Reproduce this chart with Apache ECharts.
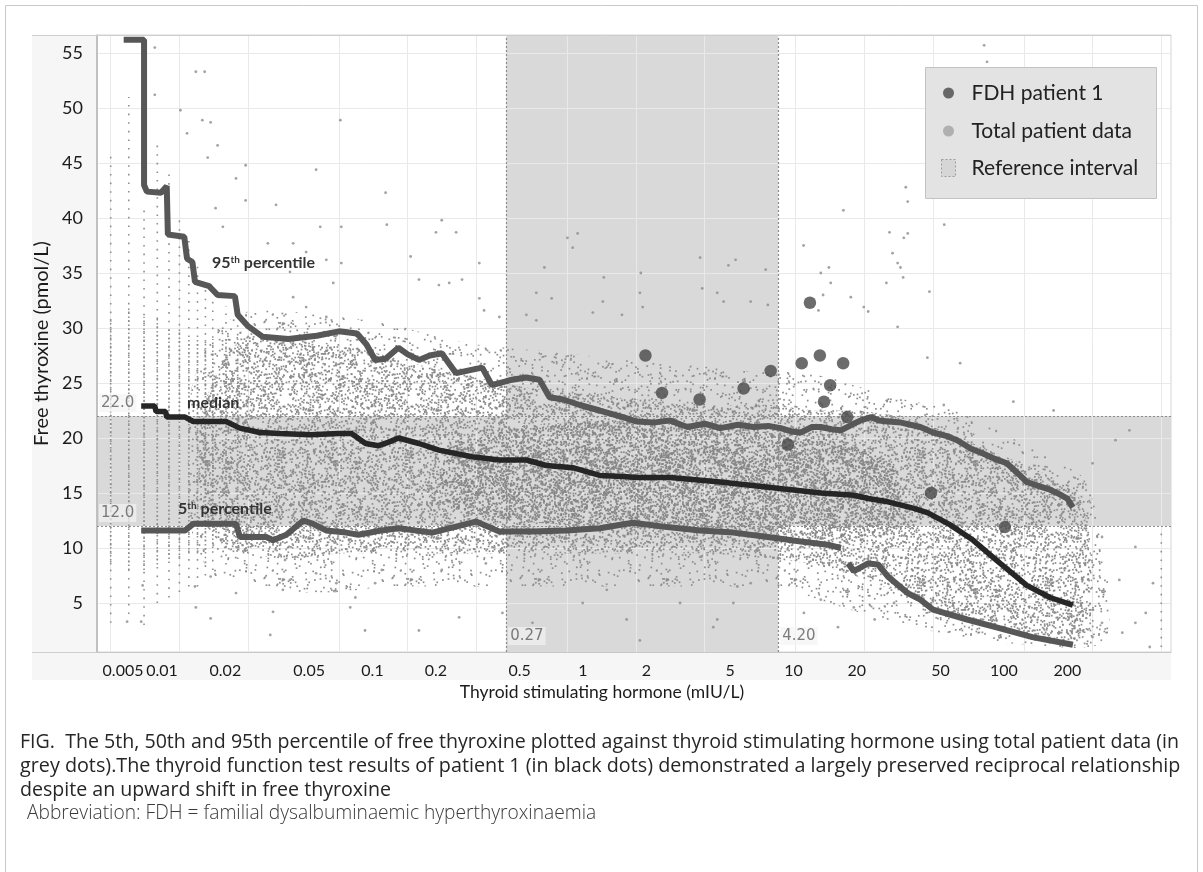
<!DOCTYPE html>
<html><head><meta charset="utf-8">
<script src="https://cdn.jsdelivr.net/npm/echarts@6/dist/echarts.min.js"></script>
<style>html,body{margin:0;padding:0;background:#fff}#chart{width:1203px;height:872px}</style>
</head><body><div id="chart"></div>
<script>
// ---------------- DATA ----------------
const xTickValues = [0.005, 0.01, 0.02, 0.05, 0.1, 0.2, 0.5, 1, 2, 5, 10, 20, 50, 100, 200];
const yTickValues = [5, 10, 15, 20, 25, 30, 35, 40, 45, 50, 55];
const refTsh = [0.27, 4.20];
const refFt4 = [12.0, 22.0];

// FDH patient 1: [TSH, FT4]
const fdhPatient1 = [[1.10,27.5],[1.30,24.1],[1.90,23.5],[2.96,24.5],[3.89,26.1],[4.63,19.4],[5.32,26.8],[5.78,32.3],
  [6.39,27.5],[6.66,23.3],[7.09,24.8],[8.08,26.8],[8.42,21.9],[19.6,15.0],[41.3,11.9]];

// 95th percentile
const percentile95 = [[0.0057,56.2],[0.0070,56.2],[0.0070,43.0],[0.0072,42.4],[0.0083,42.3],[0.0088,42.9],[0.0089,38.5],
  [0.0105,38.3],[0.0108,36.3],[0.0114,36.0],[0.0117,34.2],[0.0135,33.8],[0.0147,33.0],[0.0175,32.9],[0.0180,31.2],
  [0.0199,30.2],[0.0232,29.2],[0.030,29.0],[0.040,29.3],[0.050,29.7],[0.060,29.5],[0.066,28.5],[0.072,27.1],[0.080,27.2],
  [0.091,28.2],[0.100,27.6],[0.112,27.1],[0.125,27.5],[0.141,27.7],[0.155,26.5],[0.163,25.9],[0.190,26.2],[0.212,26.4],
  [0.234,24.8],[0.287,25.3],[0.330,25.5],[0.378,25.3],[0.418,23.7],[0.480,23.5],[0.567,23.0],[0.694,22.5],[0.876,21.9],
  [1.01,21.5],[1.19,21.4],[1.40,21.6],[1.68,21.0],[2.00,21.3],[2.34,20.9],[2.80,21.2],[3.27,21.0],[3.80,21.1],[4.30,20.9],
  [4.80,20.6],[5.27,20.5],[5.90,21.0],[6.45,21.0],[7.20,20.8],[7.90,20.7],[8.80,21.2],[9.65,21.6],[10.7,21.9],[11.6,21.6],
  [12.7,21.5],[14.5,21.4],[17.6,21.0],[20.0,20.5],[22.8,20.2],[25.5,19.8],[29.5,19.0],[33.1,18.6],[37.4,18.1],[42.1,17.7],
  [47.0,16.8],[51.5,16.0],[58.6,15.6],[65.1,15.3],[71.5,14.9],[77.5,14.5],[82.0,13.7]];

// median
const percentile50 = [[0.0068,22.9],[0.0078,22.9],[0.0079,22.4],[0.0087,22.4],[0.0088,21.9],[0.0106,21.9],[0.0115,21.5],
  [0.0160,21.5],[0.0184,20.9],[0.0225,20.5],[0.0276,20.4],[0.0375,20.3],[0.0498,20.4],[0.0567,20.4],[0.0654,19.5],
  [0.0745,19.3],[0.0820,19.6],[0.0912,20.0],[0.112,19.5],[0.137,18.9],[0.191,18.3],[0.252,18.0],[0.331,18.0],[0.405,17.5],
  [0.528,17.3],[0.694,16.6],[0.876,16.5],[1.01,16.4],[1.41,16.4],[2.34,16.0],[3.89,15.5],[6.45,15.0],[9.0,14.8],[10.4,14.5],
  [12.7,14.2],[14.5,13.9],[16.5,13.6],[19.0,13.2],[23.8,12.1],[30.0,10.7],[39.4,8.6],[51.5,6.6],[65.1,5.5],[82.0,4.8]];

// 5th percentile
const percentile5 = [[0.0068,11.6],[0.0106,11.6],[0.0115,12.2],[0.0177,12.2],[0.0184,11.0],[0.024,11.0],[0.0257,10.7],
  [0.0294,11.2],[0.0349,12.5],[0.0385,12.2],[0.0439,11.6],[0.0537,11.4],[0.0608,11.2],[0.0768,11.6],[0.0912,11.8],
  [0.128,11.4],[0.199,12.4],[0.252,11.5],[0.352,11.5],[0.496,11.6],[0.694,11.8],[0.97,12.3],[1.37,11.9],[1.91,11.6],
  [2.67,11.4],[3.78,11.0],[5.27,10.6],[6.9,10.3],[7.9,10.0],[8.2,null],[8.5,8.6],[9.0,7.9],[10.4,8.6],[11.5,8.5],[12.7,7.4],
  [15.5,5.9],[17.6,5.3],[20.0,4.4],[28.2,3.5],[39.4,2.7],[54.5,1.9],[82.0,1.2]];

// Total patient data: individually visible (sparse) grey dots [TSH, FT4]
const totalPatientData = [
  [0.0078,55.5],[0.0078,51.2],[0.0118,53.3],[0.0129,53.3],[0.0101,49.8],[0.0126,48.9],[0.0137,48.7],[0.0108,47.7],
  [0.0147,46.6],[0.0133,45.5],[0.0195,44.8],[0.0177,43.6],[0.0195,41.6],[0.0265,41.2],[0.0144,40.9],[0.0507,48.9],
  [0.0397,44.4],[0.0155,39.2],[0.0244,37.7],[0.0315,37.7],[0.0414,39.2],[0.0512,39.2],[0.0359,36.9],[0.0440,36.2],
  [0.0512,35.9],[0.0239,35.9],[0.0305,35.1],[0.0472,34.1],[0.0359,31.9],[0.0315,32.8],[0.0440,31.0],[0.080,42.3],
  [0.081,39.4],[0.0137,33.9],
  [0.141,39.8],[0.133,38.7],[0.163,38.7],[0.206,35.9],[0.103,36.5],[0.501,38.2],[0.555,38.6],[0.528,37.3],[0.397,35.5],
  [0.723,34.6],[1.05,35.0],[1.91,36.4],[2.54,35.7],[2.73,36.2],[3.70,35.3],[0.112,34.4],[0.152,34.1],[0.173,34.4],
  [0.137,33.9],[1.95,33.6],[2.27,33.2],[2.42,32.4],[3.18,32.4],[3.78,32.1],[0.366,33.2],[0.427,32.7],[0.716,32.4],
  [1.04,33.2],[1.07,31.9],[0.647,31.4],[0.868,31.2],[0.331,31.2],[0.366,30.7],[0.206,32.7],[0.216,31.6],[0.252,31.0],
  [33.5,55.7],[34.5,54.2],[15.2,42.8],[15.5,41.5],[8.1,40.7],[22.4,39.4],[12.9,38.7],[15.5,38.6],[14.9,38.2],[5.42,37.5],
  [13.3,36.8],[14.0,35.9],[14.4,35.5],[7.0,35.5],[6.45,35.0],[7.13,34.1],[12.5,34.1],[19.3,33.3],[8.73,32.8],[6.6,33.0],
  [9.95,31.9],[10.4,31.5],[6.3,31.6],[14.8,34.6],[14.0,30.1],[26.3,26.8],[22.3,23.0],[45.0,23.3],[18.9,27.3],[67.5,22.5],
  [0.0069,6.6],[0.0117,6.5],[0.0137,7.4],[0.0177,5.9],[0.0257,4.2],[0.0118,4.6],[0.0068,3.3],[0.0059,3.3],[0.0137,3.6],
  [0.025,2.1],[0.0305,7.1],[0.0397,7.7],[0.0487,6.8],[0.0284,6.2],[0.065,2.5],[0.056,4.6],[0.072,6.8],[0.029,8.9],
  [0.077,8.0],[0.059,5.5],
  [0.168,3.7],[0.112,2.5],[0.26,4.1],[0.22,8.6],[0.141,8.0],[0.745,6.2],[1.91,9.2],[2.67,5.0],[3.18,6.8],[2.27,3.5],
  [0.91,3.5],[0.584,5.0],[0.352,3.2],[1.37,7.1],[1.56,5.0],[2.18,2.8],[1.04,1.6],[2.78,6.5],[6.45,5.3],[9.0,4.6],
  [11.1,3.5],[13.5,5.0],[7.67,2.8],[5.44,4.1],
  [154,10.1],[131,7.1],[110,3.2],[171,4.1],[100,17.7],[126,19.8],[145,20.7],[100,1.9],[135,2.3],[178,1.0],[110,11.0],
  [97,8.9],[184,6.8],[154,3.2]];

// Discrete low-TSH result columns (seen as dotted vertical columns): TSH, FT4 range, dense FT4 range
const columnTsh     = [0.005, 0.006, 0.007, 0.008, 0.009, 0.010, 0.011, 0.012, 0.013, 0.014, 0.016, 0.018, 200];
const columnLow     = [3.2,   4.0,   3.0,   5.0,   5.5,   6.0,   6.5,   6.5,   7.5,   8.0,   8.5,   9.0,   1.0];
const columnHigh    = [46,    51,    41,    47,    44,    40,    38,    36,    34,    33,    32,    31,    11.5];
const columnDenseLo = [8.5,   8.0,   8.0,   8.5,   9.0,   9.0,   9.5,   9.5,   9.5,   10,    10,    10,    1.0];
const columnDenseHi = [31,    32,    31,    31,    30,    30,    29,    29,    29,    29,    29,    29,    1.0];

// Dense grey cloud of total patient data: [TSH, lower FT4, upper FT4] envelopes
const cloudOuter = [[0.0112,12,24],[0.014,7.5,29.5],[0.02,6.5,31.5],[0.03,6,31.5],[0.05,6,31],[0.08,6.5,30.5],[0.12,6.5,29.5],
  [0.2,6.5,28.5],[0.35,6.5,28],[0.6,6.5,27.5],[1,6.5,27],[2,6.5,26.5],[3.5,6.5,26],[5,6,26],[7,5,25.5],[10,4,24.5],
  [15,3,23.5],[25,2,22.5],[40,1.4,20.5],[60,1.1,18.5],[90,0.9,16.5],[105,1.2,13],[118,2.5,8]];
const cloudMid = [[0.0125,13,22],[0.016,10,27.5],[0.02,9.5,29.2],[0.03,9,29],[0.05,9.5,28.5],[0.08,9.5,27.5],[0.12,9.5,26.5],[0.2,9.5,25.5],
  [0.35,9.5,24.5],[0.6,9.5,24],[1,9.5,23.5],[2,9.5,23],[4,9,23],[6,8.5,22.5],[9,7.5,22.5],[14,6,22],[20,4.5,21],
  [30,3.2,19.5],[45,2.3,18],[65,1.8,16.5],[88,1.6,14.5],[98,3,10]];
const cloudCore = [[0.15,14,19],[0.3,12.5,21],[0.6,12,21.5],[1,11.8,21.5],[2,11.8,21],[4,11.5,20.5],[7,11,20],[10,11,19],[14,12,17]];

// ---------------- LAYOUT / STYLE ----------------
const GRID = {left: 97, top: 35, width: 1074, height: 617};
const X_MIN = 0.004355, X_MAX = 220.6;          // data axis extent
const XL_MIN = 0.004911, XL_MAX = 621.5;        // extent of the typeset tick-label scale
const XF_MIN = 0.003761, XF_MAX = 476.0;        // typeset position of the first ("0.005") label
const Y_MIN = 0.545, Y_MAX = 56.64;
const FONT = 'Lato';
const CAPTION_FONT = 'Open Sans';

// speckle texture used to paint the dense part of the grey cloud (style only)
function speckleTexture(tile, count, radius, color, seed) {
  const c = document.createElement('canvas');
  c.width = tile; c.height = tile;
  const g = c.getContext('2d');
  g.fillStyle = color;
  const h = (n) => { const s = Math.sin(n * 12.9898 + seed * 78.233) * 43758.5453; return s - Math.floor(s); };
  for (let k = 0; k < count; k++) {
    const px = h(2 * k + 1) * tile, py = h(2 * k + 2) * tile;
    for (const dx of [-tile, 0, tile]) for (const dy of [-tile, 0, tile]) {
      g.fillRect(px + dx - radius, py + dy - radius, radius * 2, radius * 2);
    }
  }
  return c;
}
const texOuter = speckleTexture(128, 480, 0.85, '#8e8e8e', 1);
const texMid   = speckleTexture(128, 1250, 0.85, '#8b8b8b', 2);
const texCore  = speckleTexture(128, 1450, 0.85, '#848484', 3);

function cloudSeries(band, tex) {
  return {
    type: 'custom', silent: true, z: 3, animation: false,
    coordinateSystem: 'cartesian2d',
    data: [[band[0][0], band[0][1]]],
    renderItem: function (params, api) {
      const top = band.map(b => api.coord([b[0], b[2]]));
      const bottom = band.slice().reverse().map(b => api.coord([b[0], b[1]]));
      return {type: 'polygon', shape: {points: top.concat(bottom), smooth: 0.25},
              style: {fill: {image: tex, repeat: 'repeat'}, stroke: null}};
    }
  };
}

const columnData = columnTsh.map((t, i) => [t, columnLow[i], columnHigh[i], columnDenseLo[i], columnDenseHi[i]]);

const chart = echarts.init(document.getElementById('chart'), null, {renderer: 'canvas'});

const tickLabelStyle = {show: true, margin: 11, fontSize: 16, fontFamily: FONT, color: '#1b1b1b',
  showMinLabel: true, showMaxLabel: true, hideOverlap: false,
  formatter: function (v) { return String(Number(v.toPrecision(6))); }};
const legendText = {fontSize: 21, fontFamily: FONT, color: '#222'};
const option = {
  animation: false,
  backgroundColor: '#ffffff',
  textStyle: {fontFamily: FONT},
  grid: {left: GRID.left, top: GRID.top, width: GRID.width, height: GRID.height, show: true,
         backgroundColor: '#ffffff', borderColor: '#d4d4d4', borderWidth: 1, containLabel: false},
  xAxis: [
    {type: 'log', logBase: 10, min: X_MIN, max: X_MAX, position: 'bottom', z: 2,
     axisLine: {show: true, onZero: false, lineStyle: {color: '#c8c8c8', width: 1}},
     axisTick: {show: false, customValues: xTickValues},
     axisLabel: {show: false},
     splitLine: {show: true, lineStyle: {color: '#e9e9e9', width: 1}}},
    {type: 'log', logBase: 10, min: XL_MIN, max: XL_MAX, position: 'bottom', z: 2,
     axisLine: {show: false}, axisTick: {show: false}, splitLine: {show: false},
     axisLabel: Object.assign({customValues: xTickValues.slice(1)}, tickLabelStyle)},
    {type: 'log', logBase: 10, min: XF_MIN, max: XF_MAX, position: 'bottom', z: 2,
     axisLine: {show: false}, axisTick: {show: false}, splitLine: {show: false},
     axisLabel: Object.assign({customValues: xTickValues.slice(0, 1)}, tickLabelStyle)}
  ],
  yAxis: {type: 'value', min: Y_MIN, max: Y_MAX, z: 2,
    name: 'Free thyroxine (pmol/L)', nameLocation: 'middle', nameGap: 45,
    nameTextStyle: {fontSize: 20, fontFamily: FONT, color: '#1b1b1b'},
    axisLine: {show: true, lineStyle: {color: '#b3b3b3', width: 1.5}},
    axisTick: {show: false, customValues: yTickValues},
    axisLabel: {customValues: yTickValues, margin: 14, fontSize: 18, fontFamily: FONT, color: '#1b1b1b'},
    splitLine: {show: true, lineStyle: {color: '#e9e9e9', width: 1}}},
  legend: [
    {data: ['FDH patient 1'], left: 943, top: 82.5, padding: 0, itemWidth: 36, itemHeight: 11, itemGap: 0,
     icon: 'circle', selectedMode: false, z: 20, textStyle: legendText},
    {data: [{name: 'Total patient data', itemStyle: {color: '#a3a3a3'}}], left: 943, top: 120.5, padding: 0,
     itemWidth: 36, itemHeight: 11, icon: 'circle', selectedMode: false, z: 20, textStyle: legendText},
    {data: [{name: 'Reference interval', icon: 'path://M0,0L14,0L14,17L0,17Z',
             itemStyle: {color: '#d2d2d2', borderColor: '#8c8c8c', borderType: [2, 2], borderWidth: 1}}],
     left: 941, top: 157.5, padding: 0, itemWidth: 36, itemHeight: 17, selectedMode: false, z: 20, textStyle: legendText}
  ],
  series: [
    {name: 'Reference interval', type: 'scatter', data: [], z: 1, silent: true,
     itemStyle: {color: '#d2d2d2'},
     markArea: {silent: true, itemStyle: {color: '#d9d9d9', opacity: 1},
       data: [[{xAxis: refTsh[0]}, {xAxis: refTsh[1]}], [{yAxis: refFt4[0]}, {yAxis: refFt4[1]}]]},
     markLine: {silent: true, symbol: 'none', label: {show: false},
       lineStyle: {type: [2, 2], color: '#8d8d8d', width: 1.2},
       data: [{xAxis: refTsh[0]}, {xAxis: refTsh[1]}, {yAxis: refFt4[0]}, {yAxis: refFt4[1]}]}},
    cloudSeries(cloudOuter, texOuter),
    cloudSeries(cloudMid, texMid),
    cloudSeries(cloudCore, texCore),
    {type: 'custom', silent: true, z: 3, coordinateSystem: 'cartesian2d', data: columnData,
     encode: {x: 0, y: [1, 2, 3, 4]},
     renderItem: function (params, api) {
       const x = api.value(0);
       const a = api.coord([x, api.value(1)]), b = api.coord([x, api.value(2)]);
       const c = api.coord([x, api.value(3)]), d = api.coord([x, api.value(4)]);
       return {type: 'group', children: [
         {type: 'line', shape: {x1: a[0], y1: a[1], x2: b[0], y2: b[1]}, style: {stroke: '#8f8f8f', lineWidth: 1.6, lineDash: [1.6, 7]}},
         {type: 'line', shape: {x1: c[0], y1: c[1], x2: d[0], y2: d[1]}, style: {stroke: '#8f8f8f', lineWidth: 1.6, lineDash: [1.6, 2.4]}}
       ]};
     }},
    {name: 'Total patient data', type: 'scatter', data: totalPatientData, z: 4, silent: true,
     symbol: 'circle', symbolSize: 2.8, itemStyle: {color: '#8c8c8c'}},
    {name: '95th percentile', type: 'line', data: percentile95, z: 5, silent: true, showSymbol: false,
     lineStyle: {color: '#575757', width: 6}, connectNulls: false,
     markPoint: {silent: true, symbol: 'circle', symbolSize: 0,
       data: [{coord: [0.0139, 35.9]}],
       label: {show: true, position: 'right', distance: 0, formatter: '95{sup|th} percentile',
         fontFamily: FONT, fontWeight: 'bold', fontSize: 16, color: '#333',
         rich: {sup: {fontSize: 10, fontWeight: 'bold', verticalAlign: 'top', color: '#333', fontFamily: FONT}}}}},
    {name: 'median', type: 'line', data: percentile50, z: 5, silent: true, showSymbol: false,
     lineStyle: {color: '#262626', width: 5.5},
     markPoint: {silent: true, symbol: 'circle', symbolSize: 0,
       data: [{coord: [0.0108, 23.2]}],
       label: {show: true, position: 'right', distance: 0, formatter: 'median',
         fontFamily: FONT, fontWeight: 'bold', fontSize: 16, color: '#333'}}},
    {name: '5th percentile', type: 'line', data: percentile5, z: 5, silent: true, showSymbol: false,
     lineStyle: {color: '#575757', width: 6}, connectNulls: false,
     markPoint: {silent: true, symbol: 'circle', symbolSize: 0,
       data: [{coord: [0.00986, 13.6]}],
       label: {show: true, position: 'right', distance: 0, formatter: '5{sup|th} percentile',
         fontFamily: FONT, fontWeight: 'bold', fontSize: 16, color: '#333',
         rich: {sup: {fontSize: 10, fontWeight: 'bold', verticalAlign: 'top', color: '#333', fontFamily: FONT}}}}},
    {name: 'FDH patient 1', type: 'scatter', data: fdhPatient1, z: 6, silent: true,
     symbol: 'circle', symbolSize: 12.5, itemStyle: {color: '#474747'}},
    {name: 'refLabels', type: 'scatter', z: 7, silent: true, symbolSize: 0,
     data: [
       {value: [refTsh[0], 2.0], label: {formatter: refTsh[0].toFixed(2), position: 'right', distance: 2}},
       {value: [refTsh[1], 2.0], label: {formatter: refTsh[1].toFixed(2), position: 'right', distance: 2}},
       {value: [X_MIN, refFt4[1]], label: {formatter: refFt4[1].toFixed(1), position: 'right', distance: 2, offset: [0, -13]}},
       {value: [X_MIN, refFt4[0]], label: {formatter: refFt4[0].toFixed(1), position: 'right', distance: 2, offset: [0, -13]}}
     ],
     label: {show: true, fontFamily: 'DejaVu Sans', fontSize: 15, color: '#5c5c5c',
             backgroundColor: 'rgba(244,244,244,0.85)', padding: [2, 2, 1, 2]}}
  ],
  graphic: {elements: [
    {type: 'rect', silent: true, z: -10, shape: {x: 5.5, y: 5.5, width: 1192, height: 900},
     style: {fill: '#ffffff', stroke: '#c9c9c9', lineWidth: 1}},
    {type: 'rect', silent: true, z: -5, shape: {x: 32, y: 35, width: 1139, height: 645},
     style: {fill: '#f6f6f6'}},
    {type: 'line', silent: true, z: 30, shape: {x1: 32, y1: 35.5, x2: 1171, y2: 35.5}, style: {stroke: '#cfcfcf', lineWidth: 1}},
    {type: 'line', silent: true, z: 30, shape: {x1: 32, y1: 652.5, x2: 97, y2: 652.5}, style: {stroke: '#cfcfcf', lineWidth: 1}},
    {type: 'rect', silent: true, z: 15, shape: {x: 925.5, y: 67.5, width: 231, height: 131},
     style: {fill: '#e3e3e3', stroke: '#c3c3c3', lineWidth: 1}},
    {type: 'text', silent: true, z: 30, x: 602, y: 692,
     style: {text: 'Thyroid stimulating hormone (mIU/L)', fontSize: 17.5, fontFamily: FONT, fill: '#1b1b1b',
             textAlign: 'center', textVerticalAlign: 'middle'}},
    {type: 'text', silent: true, z: 30, x: 20, y: 742,
     style: {text: 'FIG.  The 5th, 50th and 95th percentile of free thyroxine plotted against thyroid stimulating hormone using total patient data (in',
             fontSize: 19.6, fontFamily: CAPTION_FONT, fill: '#262626', textAlign: 'left', textVerticalAlign: 'middle'}},
    {type: 'text', silent: true, z: 30, x: 20, y: 766,
     style: {text: 'grey dots).The thyroid function test results of patient 1 (in black dots) demonstrated a largely preserved reciprocal relationship',
             fontSize: 19.75, fontFamily: CAPTION_FONT, fill: '#262626', textAlign: 'left', textVerticalAlign: 'middle'}},
    {type: 'text', silent: true, z: 30, x: 20, y: 790,
     style: {text: 'despite an upward shift in free thyroxine',
             fontSize: 19.6, fontFamily: CAPTION_FONT, fill: '#262626', textAlign: 'left', textVerticalAlign: 'middle'}},
    {type: 'text', silent: true, z: 30, x: 27, y: 814,
     style: {text: 'Abbreviation: FDH = familial dysalbuminaemic hyperthyroxinaemia',
             fontSize: 19.2, fontFamily: CAPTION_FONT, fontWeight: 300, fill: '#3a3a3a', textAlign: 'left', textVerticalAlign: 'middle'}}
  ]}
};
chart.setOption(option);
</script>
</body></html>
